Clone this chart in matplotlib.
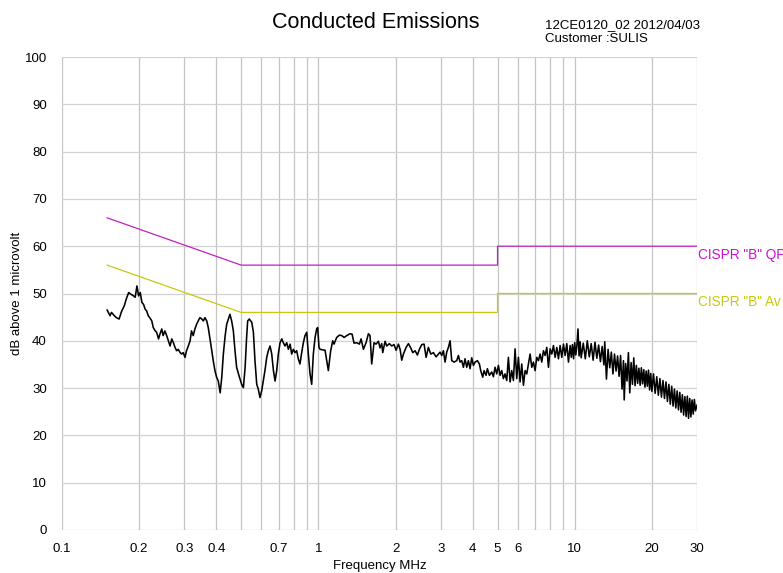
import matplotlib
matplotlib.use('Agg')
import matplotlib.pyplot as plt
import numpy as np

plt.rcParams['font.family'] = ['Liberation Sans', 'DejaVu Sans']

freq_a = [0.150, 0.154, 0.156, 0.160, 0.163, 0.167, 0.171, 0.175, 0.178, 0.182,
          0.185, 0.190, 0.193, 0.196, 0.199, 0.202, 0.205, 0.208, 0.211, 0.214,
          0.217, 0.220, 0.224, 0.227, 0.231, 0.234, 0.238, 0.241, 0.245, 0.248,
          0.252, 0.256, 0.260, 0.264, 0.268, 0.272, 0.276, 0.280, 0.284, 0.289,
          0.293, 0.297, 0.302, 0.306, 0.311, 0.316, 0.320, 0.325, 0.330, 0.335,
          0.340, 0.345, 0.351, 0.356, 0.361, 0.367, 0.372]
level_a = [46.5, 45.3, 46.0, 45.3, 44.9, 44.6, 46.3, 47.4, 48.8, 50.2,
           49.9, 49.5, 49.2, 51.6, 49.5, 50.2, 48.1, 47.7, 46.7, 46.3,
           45.3, 44.9, 44.2, 42.8, 42.1, 41.8, 40.4, 41.4, 42.5, 41.1,
           42.1, 41.1, 40.0, 38.9, 40.4, 39.6, 38.6, 37.9, 38.2, 37.5,
           37.2, 37.5, 36.5, 37.9, 38.9, 40.0, 42.1, 41.1, 42.5, 43.5,
           44.2, 44.9, 44.6, 44.2, 44.9, 44.2, 42.8]

freq_b = [0.378, 0.384, 0.389, 0.395, 0.401, 0.407, 0.414, 0.420, 0.426, 0.433,
          0.439, 0.446, 0.452, 0.459, 0.466, 0.473, 0.480, 0.488, 0.495, 0.502,
          0.510, 0.518, 0.525, 0.530, 0.538, 0.550, 0.558, 0.566, 0.575, 0.583,
          0.592, 0.601, 0.610, 0.619, 0.629, 0.638, 0.648, 0.658, 0.668, 0.678,
          0.688, 0.698, 0.709, 0.720, 0.730, 0.741, 0.753, 0.764, 0.776, 0.787,
          0.799, 0.811, 0.823, 0.836, 0.848, 0.861, 0.874, 0.887, 0.901, 0.914,
          0.928, 0.942, 0.956, 0.971, 0.985, 0.994, 1.006]
level_b = [40.4, 37.9, 35.8, 33.7, 32.3, 31.5, 29.0, 32.3, 37.2, 41.1,
           43.5, 44.6, 45.6, 44.2, 42.1, 37.9, 34.4, 33.0, 31.9, 30.8,
           30.1, 34.4, 40.7, 44.2, 44.6, 43.9, 41.8, 35.8, 30.8, 29.8,
           28.0, 29.4, 31.5, 33.7, 36.5, 37.9, 38.9, 37.2, 33.7, 31.5,
           33.7, 37.2, 39.6, 40.4, 39.6, 38.9, 39.6, 38.2, 39.3, 37.2,
           38.2, 37.5, 37.9, 36.1, 35.1, 37.5, 39.6, 41.1, 41.8, 37.2,
           33.0, 30.8, 37.2, 40.7, 42.5, 42.8, 38.6]

freq_c = [1.015, 1.062, 1.094, 1.117, 1.138, 1.151, 1.179, 1.208, 1.234, 1.260,
          1.291, 1.330, 1.354, 1.378, 1.412, 1.446, 1.468, 1.499, 1.535, 1.568,
          1.591, 1.615, 1.649, 1.679, 1.715, 1.741, 1.767, 1.783, 1.821, 1.849,
          1.893, 1.933, 1.974, 2.010, 2.053, 2.084, 2.115, 2.147, 2.199, 2.246,
          2.293, 2.335, 2.384, 2.435, 2.479, 2.531, 2.585, 2.632, 2.688, 2.745,
          2.811, 2.879, 2.940]
level_c = [38.2, 38.0, 33.7, 37.9, 40.0, 39.3, 40.7, 41.2, 41.1, 40.7,
           41.1, 41.5, 41.4, 39.5, 39.6, 39.3, 40.4, 38.2, 39.6, 41.5,
           41.1, 35.1, 39.6, 39.3, 39.9, 38.5, 39.4, 37.5, 39.9, 38.9,
           39.4, 38.9, 39.2, 38.0, 39.3, 38.2, 35.9, 37.2, 38.6, 39.4,
           38.5, 37.5, 37.9, 37.0, 38.2, 39.2, 39.3, 36.5, 38.6, 37.2,
           37.5, 36.6, 37.2]

freq_d = [2.984, 3.029, 3.075, 3.121, 3.168, 3.216, 3.265, 3.314, 3.384, 3.466,
          3.518, 3.571, 3.625, 3.680, 3.735, 3.792, 3.849, 3.907, 3.966, 4.026,
          4.087, 4.173, 4.249, 4.300, 4.378, 4.431, 4.511, 4.565, 4.648, 4.746,
          4.818, 4.891, 4.965, 5.039, 5.116, 5.193, 5.271, 5.351, 5.431, 5.513,
          5.597, 5.681, 5.767, 5.854, 5.942, 6.032, 6.123, 6.215, 6.310, 6.405,
          6.502, 6.600, 6.700, 6.801, 6.903, 7.007, 7.113, 7.221, 7.330, 7.440,
          7.553, 7.667, 7.782, 7.900, 8.019, 8.140, 8.263, 8.387, 8.514, 8.643,
          8.773, 8.905, 9.040, 9.176, 9.315, 9.455, 9.598]
level_d = [37.6, 36.9, 37.9, 35.5, 37.6, 38.6, 40.0, 35.8, 35.5, 35.8,
           36.9, 35.5, 35.8, 34.4, 36.2, 34.4, 35.8, 34.1, 36.4, 34.8,
           35.5, 35.8, 35.1, 33.7, 32.3, 33.7, 32.7, 34.1, 32.7, 33.4,
           32.4, 34.4, 33.0, 34.8, 32.7, 33.7, 32.0, 33.0, 31.6, 36.5,
           31.3, 33.7, 31.6, 38.3, 32.0, 36.5, 31.3, 35.1, 30.6, 33.7,
           33.0, 35.1, 37.2, 34.4, 35.5, 33.7, 36.5, 35.8, 37.2, 35.5,
           37.9, 36.9, 38.6, 34.4, 38.3, 37.2, 39.0, 36.5, 38.6, 36.2,
           39.0, 36.5, 39.3, 36.9, 39.4, 35.5, 39.0]

freq_e = [9.7, 9.8, 9.9, 10.0, 10.1, 10.2, 10.3, 10.4, 10.5, 10.6,
          10.8, 11.0, 11.2, 11.4, 11.6, 11.8, 12.0, 12.2, 12.4, 12.6,
          12.8, 13.0, 13.1, 13.3, 13.5, 13.7, 13.9, 14.1, 14.3, 14.5,
          14.7, 14.9, 15.1, 15.3, 15.5, 15.6, 15.8, 16.0, 16.2, 16.4,
          16.6, 16.8, 17.0, 17.2, 17.4, 17.6, 17.8, 18.0, 18.2, 18.4,
          18.6, 18.8, 19.0, 19.2, 19.4, 19.6, 19.8, 20.0, 20.3, 20.6,
          20.9, 21.2, 21.5, 21.8, 22.1, 22.4, 22.7, 23.0, 23.3, 23.6,
          23.9, 24.2, 24.5, 24.8, 25.1, 25.4, 25.7, 26.0, 26.3, 26.6,
          26.9, 27.2, 27.5, 27.8, 28.1, 28.4, 28.7, 29.0, 29.3, 29.6,
          30.0]
level_e = [36.5, 39.2, 36.2, 39.6, 37.0, 39.0, 42.5, 36.8, 39.8, 36.4,
           39.5, 36.2, 40.0, 36.6, 39.4, 35.9, 39.7, 36.3, 39.1, 35.6,
           38.8, 34.9, 39.8, 31.9, 38.2, 34.3, 37.6, 33.0, 37.2, 33.6,
           36.8, 32.5, 36.9, 29.8, 35.8, 27.5, 35.2, 31.5, 37.5, 29.0,
           35.4, 30.8, 36.4, 30.5, 34.8, 31.0, 34.2, 30.6, 34.3, 30.9,
           33.9, 30.2, 33.6, 30.4, 33.8, 29.6, 33.1, 29.3, 33.0, 28.9,
           32.4, 28.5, 32.0, 28.1, 31.6, 27.8, 31.3, 27.2, 30.8, 26.6,
           30.4, 26.2, 29.8, 25.8, 29.4, 25.4, 29.1, 24.9, 28.6, 24.3,
           28.2, 24.0, 28.3, 23.6, 27.8, 23.9, 27.5, 24.5, 27.6, 25.2,
           26.4]

# CISPR 22 class B limits
qp_freq = [0.15, 0.5, 5.0, 5.0, 30.0]
qp_level = [66, 56, 56, 60, 60]
av_freq = [0.15, 0.5, 5.0, 5.0, 30.0]
av_level = [56, 46, 46, 50, 50]

x_grid = [0.1, 0.2, 0.3, 0.4, 0.5, 0.6, 0.7, 0.8, 0.9, 1,
          2, 3, 4, 5, 6, 7, 8, 9, 10, 20, 30]
x_labels = ['0.1', '0.2', '0.3', '0.4', '', '', '0.7', '', '', '1',
            '2', '3', '4', '5', '6', '', '', '', '10', '20', '30']

freq = np.concatenate([freq_a, freq_b, freq_c, freq_d, freq_e])
level = np.concatenate([level_a, level_b, level_c, level_d, level_e])

fig = plt.figure(figsize=(7.83, 5.73), dpi=100)
ax = fig.add_axes([62 / 783, 43 / 573, 635 / 783, 473 / 573])
ax.set_xscale('log')
ax.set_xlim(0.1, 30)
ax.set_ylim(0, 100)

ax.set_xticks(x_grid)
ax.set_xticklabels(x_labels)
ax.xaxis.set_minor_locator(matplotlib.ticker.NullLocator())
ax.set_yticks(range(0, 101, 10))
ax.tick_params(length=0, labelsize=9.5)
ax.tick_params(axis='y', pad=11)
ax.tick_params(axis='x', pad=9)
ax.grid(axis='x', color='#c4c4c4', lw=0.9)
ax.grid(axis='y', color='#d2d2d2', lw=0.9)
ax.set_axisbelow(True)
for s in ax.spines.values():
    s.set_visible(False)

ax.plot(qp_freq, qp_level, color='#c020c0', lw=0.9)
ax.plot(av_freq, av_level, color='#c8c810', lw=0.9)
ax.plot(freq, level, color='black', lw=1.15)

ax.annotate('CISPR "B" QP', xy=(30, 60), xytext=(1, -1), textcoords='offset points',
            color='#d010d0', fontsize=9.8, va='top', ha='left', annotation_clip=False)
ax.annotate('CISPR "B" Av', xy=(30, 50), xytext=(1, -1), textcoords='offset points',
            color='#c8c810', fontsize=9.8, va='top', ha='left', annotation_clip=False)

fig.text(376 / 783, 1 - 22 / 573, 'Conducted Emissions', ha='center', va='center', fontsize=15.5)
fig.text(545 / 783, 1 - 25 / 573, '12CE0120_02 2012/04/03', ha='left', va='center', fontsize=9.5)
fig.text(545 / 783, 1 - 39 / 573, 'Customer :SULIS', ha='left', va='center', fontsize=9.5)
fig.text(17 / 783, 1 - 293 / 573, 'dB above 1 microvolt', rotation=90, ha='center', va='center', fontsize=9.5)
fig.text(380 / 783, 1 - 566 / 573, 'Frequency MHz', ha='center', va='center', fontsize=9.5)

fig.savefig('out.png', dpi=100, facecolor='white')
plt.close(fig)
